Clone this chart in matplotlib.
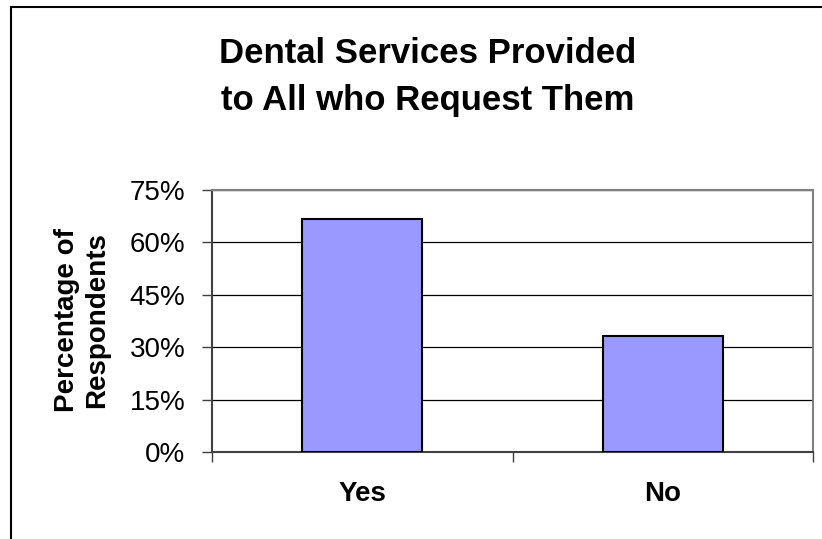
import numpy as np
import matplotlib.pyplot as plt
from matplotlib.patches import Rectangle
from matplotlib.ticker import FuncFormatter

categories = ['Yes', 'No']
percent = [66.7, 33.3]
y_ticks = [0, 15, 30, 45, 60, 75]

plt.rcParams['font.family'] = ['Liberation Sans', 'DejaVu Sans']

fig = plt.figure(figsize=(8.22, 5.39), dpi=100)
ax = fig.add_axes([212 / 822, 87 / 539, 601 / 822, 262 / 539])

x = np.arange(len(categories))
ax.bar(x, percent, width=0.4, color='#9999ff', edgecolor='black', linewidth=1.5, zorder=3)

ax.set_xlim(-0.5, len(categories) - 0.5)
ax.set_ylim(0, 75)
ax.set_yticks(y_ticks)
ax.yaxis.set_major_formatter(FuncFormatter(lambda v, p: '{:.0f}%'.format(v)))
ax.grid(axis='y', color='black', linewidth=0.9, zorder=1)

ax.set_xticks(x)
ax.set_xticklabels(categories, fontsize=20, fontweight='bold')
ax.set_xticks(np.arange(-0.5, len(categories)), minor=True)
ax.tick_params(axis='x', which='major', length=0, pad=21)
ax.tick_params(axis='x', which='minor', length=7, width=1, direction='out', color='#404040')
ax.tick_params(axis='y', length=7, width=1, direction='out', pad=12, labelsize=20, color='#404040')

for s in ['top', 'right']:
    ax.spines[s].set_color('#808080')
    ax.spines[s].set_linewidth(1.5)
for s in ['left', 'bottom']:
    ax.spines[s].set_color('#404040')
    ax.spines[s].set_linewidth(1.5)

fig.text(82 / 822, 1 - 320 / 539, 'Percentage of\nRespondents', rotation=90,
         ha='center', va='center', fontsize=20, fontweight='bold', linespacing=1.25)

fig.text(428 / 822, 1 - 63 / 539, 'Dental Services Provided', ha='center', va='baseline',
         fontsize=25, fontweight='bold')
fig.text(428 / 822, 1 - 110 / 539, 'to All who Request Them', ha='center', va='baseline',
         fontsize=25, fontweight='bold')

# outer chart border, cut off at right and bottom like the original
fig.patches.append(Rectangle((11 / 822, -0.05), 1.0, 1 - 7 / 539 + 0.05,
                             transform=fig.transFigure, fill=False,
                             edgecolor='black', linewidth=1.5))

fig.savefig('out.png', dpi=100)
